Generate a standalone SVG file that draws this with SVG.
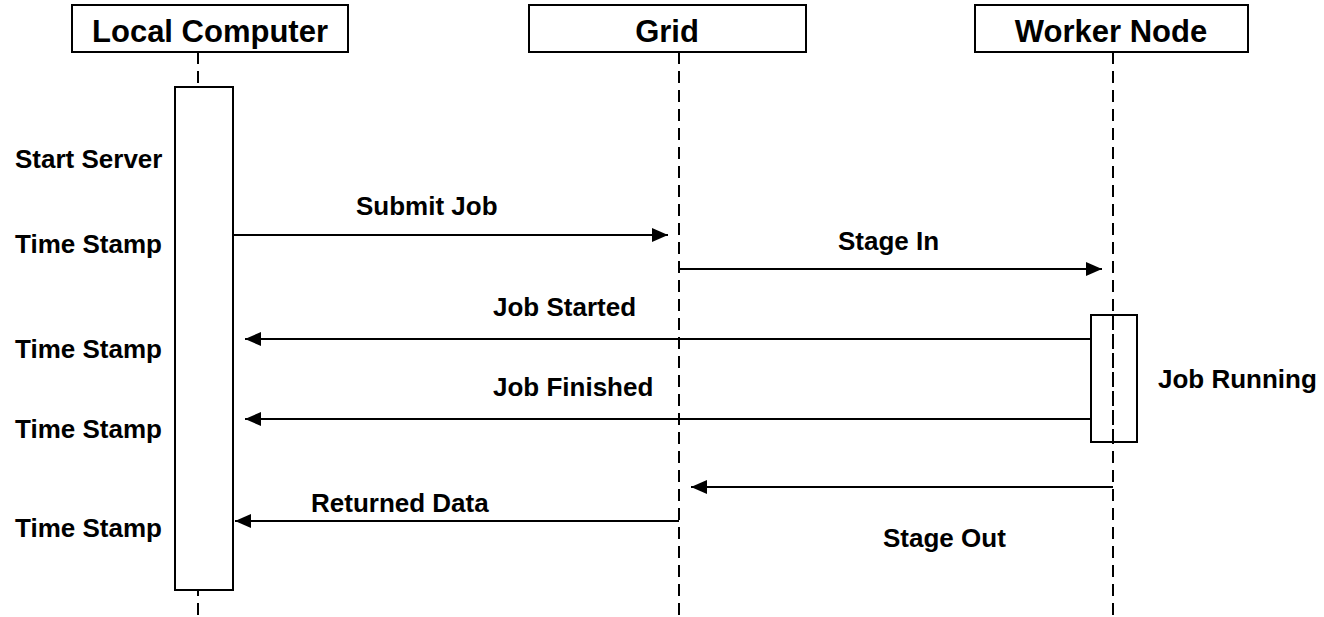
<svg xmlns="http://www.w3.org/2000/svg" width="1324" height="617" viewBox="0 0 1324 617">
  <style>
    .box { fill: #ffffff; stroke: #000000; stroke-width: 2; }
    .life { stroke: #000000; stroke-width: 2; stroke-dasharray: 12 7; fill: none; }
    .msg { stroke: #000000; stroke-width: 2; fill: none; }
    .head { font-family: "Liberation Sans", Arial, sans-serif; font-weight: bold; font-size: 31px; text-anchor: middle; fill: #000000; }
    .lbl { font-family: "Liberation Sans", Arial, sans-serif; font-weight: bold; font-size: 26px; fill: #000000; }
  </style>
  <defs>
    <marker id="arrow" markerWidth="16" markerHeight="14" refX="16" refY="7" orient="auto" markerUnits="userSpaceOnUse">
      <path d="M0,0 L16,7 L0,14 Z" fill="#000000"/>
    </marker>
  </defs>
  <rect width="1324" height="617" fill="#ffffff"/>

  <!-- lifelines -->
  <g id="lifelines">
    <line class="life" x1="198" y1="52" x2="198" y2="617"/>
    <line class="life" x1="679" y1="52" x2="679" y2="617"/>
    <line class="life" x1="1113" y1="52" x2="1113" y2="617"/>
  </g>

  <!-- participants -->
  <g id="local-computer">
    <rect class="box" x="72" y="5" width="276" height="47"/>
    <text class="head" x="210" y="42">Local Computer</text>
  </g>
  <g id="grid">
    <rect class="box" x="529" y="5" width="277" height="47"/>
    <text class="head" x="667" y="42">Grid</text>
  </g>
  <g id="worker-node">
    <rect class="box" x="975" y="5" width="273" height="47"/>
    <text class="head" x="1111" y="42">Worker Node</text>
  </g>

  <!-- activation bars -->
  <g id="local-activation">
    <rect class="box" x="175" y="87" width="58" height="503"/>
  </g>
  <g id="worker-activation">
    <rect class="box" x="1091" y="315" width="46" height="127" fill="none" style="fill:none"/>
    <line class="life" x1="1113" y1="315" x2="1113" y2="442"/>
  </g>

  <!-- messages -->
  <g id="connectors">
    <line class="msg" x1="233" y1="235" x2="668" y2="235" marker-end="url(#arrow)"/>
    <line class="msg" x1="679" y1="269" x2="1102" y2="269" marker-end="url(#arrow)"/>
    <line class="msg" x1="1091" y1="339" x2="245" y2="339" marker-end="url(#arrow)"/>
    <line class="msg" x1="1091" y1="419" x2="245" y2="419" marker-end="url(#arrow)"/>
    <line class="msg" x1="1113" y1="487" x2="691" y2="487" marker-end="url(#arrow)"/>
    <line class="msg" x1="679" y1="521" x2="235" y2="521" marker-end="url(#arrow)"/>
  </g>

  <!-- message labels -->
  <g id="labels">
    <text class="lbl" x="356" y="215">Submit Job</text>
    <text class="lbl" x="838" y="250">Stage In</text>
    <text class="lbl" x="493" y="316">Job Started</text>
    <text class="lbl" x="493" y="396">Job Finished</text>
    <text class="lbl" x="311" y="512">Returned Data</text>
    <text class="lbl" x="883" y="547">Stage Out</text>
    <text class="lbl" x="1158" y="388">Job Running</text>
  </g>

  <!-- local computer notes -->
  <g id="notes">
    <text class="lbl" x="15" y="168">Start Server</text>
    <text class="lbl" x="15" y="253">Time Stamp</text>
    <text class="lbl" x="15" y="358">Time Stamp</text>
    <text class="lbl" x="15" y="438">Time Stamp</text>
    <text class="lbl" x="15" y="537">Time Stamp</text>
  </g>
</svg>
